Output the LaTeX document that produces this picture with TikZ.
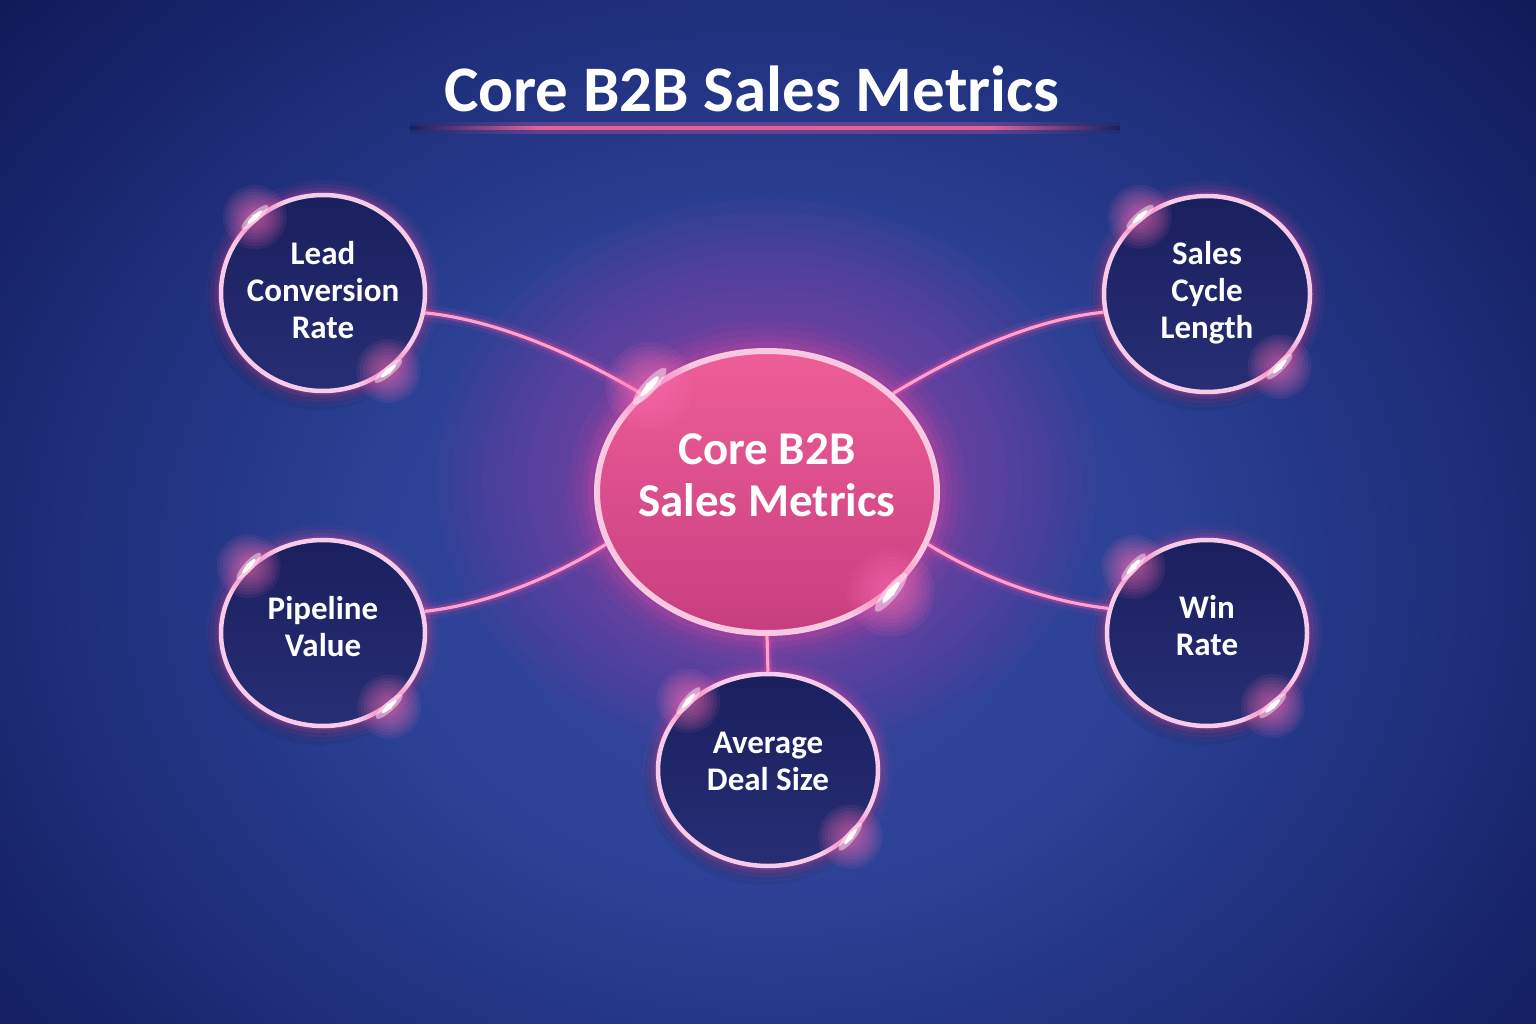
\documentclass[tikz,border=0pt]{standalone}
\usepackage{fontspec}
\setmainfont{Carlito}
\usetikzlibrary{shapes.geometric}
\definecolor{bgA}{HTML}{34479E}
\definecolor{bgB}{HTML}{2C4195}
\definecolor{bgC}{HTML}{1E2E7A}
\definecolor{bgD}{HTML}{0D1652}
\definecolor{bgT}{HTML}{16205E}
\definecolor{haze}{HTML}{B540B0}
\definecolor{glowc}{HTML}{FF4D9E}
\definecolor{sparkglow}{HTML}{FF6FB5}
\definecolor{linecore}{HTML}{FFA0CF}
\definecolor{ringc}{HTML}{F7CBEA}
\definecolor{hubring}{HTML}{FAC8E0}
\definecolor{navyT}{HTML}{1A1F5E}
\definecolor{navyB}{HTML}{272E74}
\definecolor{hubT}{HTML}{EE5E97}
\definecolor{hubB}{HTML}{C73E80}
\definecolor{ulpink}{HTML}{E4609F}
\pgfdeclareradialshading{bgshade}{\pgfpoint{0bp}{0bp}}{color(0bp)=(bgA); color(12bp)=(bgB); color(21bp)=(bgC); color(33bp)=(bgD); color(50bp)=(bgD)}
\pgfdeclarehorizontalshading{ulshade}{100bp}{color(0bp)=(bgT); color(25bp)=(bgT); color(34bp)=(ulpink); color(66bp)=(ulpink); color(75bp)=(bgT); color(100bp)=(bgT)}
\pgfdeclarelayer{back}
\pgfdeclarelayer{mid}
\pgfsetlayers{back,mid,main}
\newcommand\ringglow[3]{%
  \foreach \w/\o in {30/0.05,22/0.07,14/0.10,8/0.15}{%
    \draw[glowc, line width=\w pt, opacity=\o] (#1.center) ellipse[x radius=#2pt, y radius=#3pt];}}
\newcommand\castshadow[3]{%
  \foreach \k in {0,5,10}{%
    \fill[black, opacity=0.05] ([xshift=-4pt,yshift=-9pt]#1.center) ellipse[x radius=#2pt+\k pt, y radius=#3pt+\k pt];}}
% #1 node, #2 angle, #3 size
\newcommand\spark[3]{%
  \foreach \s in {1.0,0.9,0.8,0.7,0.6,0.5,0.4,0.3}{\fill[sparkglow, opacity=0.09] (#1.#2) circle[radius=\s*#3];}
  \node[ellipse, fill=white, opacity=0.45, inner sep=0pt, minimum width=1.1*#3, minimum height=0.3*#3, rotate=#2+90] at (#1.#2) {};
  \node[ellipse, fill=white, inner sep=0pt, minimum width=0.6*#3, minimum height=0.14*#3, rotate=#2+90] at (#1.#2) {};
  \fill[white] (#1.#2) circle[radius=0.09*#3];}
\begin{document}
\begin{tikzpicture}[x=1pt,y=-1pt,
  metric/.style={ellipse, draw=ringc, line width=4.5pt, top color=navyT, bottom color=navyB, inner sep=0pt},
  hub/.style={ellipse, draw=hubring, line width=6pt, top color=hubT, bottom color=hubB, inner sep=0pt, minimum width=340pt, minimum height=282pt},
  mtext/.style={text=white, font=\bfseries\fontsize{33}{37}\selectfont, align=center},
  htext/.style={text=white, font=\bfseries\fontsize{47}{52}\selectfont, align=center},
  titlef/.style={text=white, font=\bfseries\fontsize{65}{70}\selectfont},
  conn/.style={draw=linecore, line width=3.2pt,
    preaction={draw=glowc, line width=16pt, draw opacity=0.09},
    preaction={draw=glowc, line width=8pt, draw opacity=0.27}}]
\useasboundingbox (0,0) rectangle (1536,1024);
\begin{pgfonlayer}{back}
  \begin{scope}
    \clip (0,0) rectangle (1536,1024);
    \shade[shading=bgshade] (-60,-120) rectangle (1596,1260);
  \end{scope}
  \foreach \r [evaluate=\r as \ry using 0.85*\r] in {180,195,...,330}{
    \fill[haze, opacity=0.055] (767,480) ellipse[x radius=\r pt, y radius=\ry pt];}
\end{pgfonlayer}

% title
\node[titlef, anchor=base] (title) at (752,112) {Core B2B Sales Metrics};
\shade[shading=ulshade, opacity=0.3] (410,123) rectangle (1120,134);
\shade[shading=ulshade] (410,126.8) rectangle (1120,129.8);

% nodes
\node[metric, minimum width=204pt, minimum height=196pt] (lead) at (323,293) {};
\node[metric, minimum width=206pt, minimum height=196pt] (cycle) at (1207,294) {};
\node[metric, minimum width=204pt, minimum height=186pt] (pipe) at (323,633) {};
\node[metric, minimum width=200pt, minimum height=186pt] (win) at (1207,633) {};
\node[metric, minimum width=220pt, minimum height=192pt] (avg) at (768,770) {};
\node[hub] (hub) at (767,492) {};

\begin{pgfonlayer}{mid}
  \castshadow{lead}{102}{98}
  \castshadow{cycle}{103}{98}
  \castshadow{pipe}{102}{93}
  \castshadow{win}{100}{93}
  \castshadow{avg}{110}{96}
  \foreach \w/\o in {60/0.05,44/0.07,30/0.09,18/0.13}{%
    \draw[glowc, line width=\w pt, opacity=\o] (hub.center) ellipse[x radius=170pt, y radius=141pt];}
  \ringglow{lead}{102}{98}
  \ringglow{cycle}{103}{98}
  \ringglow{pipe}{102}{93}
  \ringglow{win}{100}{93}
  \ringglow{avg}{110}{96}
  \draw[conn] (lead.-11) .. controls +(80,8) and +(-50,-30) .. (hub.142);
  \draw[conn] (cycle.190) .. controls +(-80,8) and +(50,-30) .. (hub.38);
  \draw[conn] (pipe.12) .. controls +(70,-8) and +(-45,28) .. (hub.198);
  \draw[conn] (win.166) .. controls +(-70,-8) and +(45,28) .. (hub.-18);
  \draw[conn] (hub.south) -- (avg.north);
\end{pgfonlayer}

% sparkles
\spark{lead}{132}{32pt}  \spark{lead}{-50}{32pt}
\spark{cycle}{131}{32pt} \spark{cycle}{-45}{32pt}
\spark{pipe}{138}{32pt}  \spark{pipe}{-48}{32pt}
\spark{win}{138}{32pt}   \spark{win}{-48}{32pt}
\spark{avg}{139}{32pt}   \spark{avg}{-39}{32pt}
\spark{hub}{138}{44pt}   \spark{hub}{-39}{44pt}

% texts
\node[mtext] (leadT) at (323,290) {Lead\\Conversion\\Rate};
\node[mtext] (cycleT) at (1207,293) {Sales\\Cycle\\Length};
\node[mtext] (pipeT) at (323,627) {Pipeline\\Value};
\node[mtext] (winT) at (1207,626) {Win\\Rate};
\node[mtext] (avgT) at (768,761) {Average\\Deal Size};
\node[htext] (hubT) at (767,475) {Core B2B\\Sales Metrics};
\end{tikzpicture}
\end{document}
